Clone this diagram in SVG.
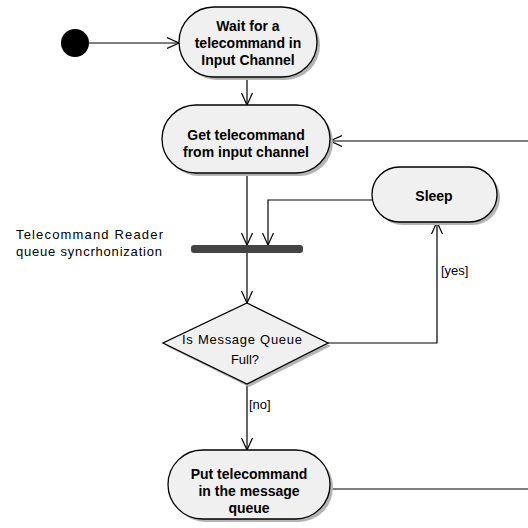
<svg xmlns="http://www.w3.org/2000/svg" width="528" height="528" viewBox="0 0 528 528">
<style>
.node{fill:#f0f0f0;stroke:#000;stroke-width:1.3}
.shadow{fill:#b4b4b4}
.bt{font-family:"Liberation Sans",Arial,sans-serif;font-weight:bold;font-size:14px;text-anchor:middle;fill:#000}
.rt{font-family:"Liberation Sans",Arial,sans-serif;font-size:13px;fill:#000}
.edge{fill:none;stroke:#000;stroke-width:1.2}
</style>
<defs>
<marker id="arr" markerUnits="userSpaceOnUse" markerWidth="14" markerHeight="14" viewBox="0 0 14 14" refX="12" refY="7" orient="auto">
<path d="M0,1.5 L12,7 L0,12.5" fill="none" stroke="#000" stroke-width="1.2"/>
</marker>
</defs>
<rect width="528" height="528" fill="#fff"/>
<g id="connectors">
<line class="edge" x1="89" y1="43" x2="179" y2="43" marker-end="url(#arr)"/>
<line class="edge" x1="247" y1="77" x2="247" y2="105" marker-end="url(#arr)"/>
<line class="edge" x1="528" y1="141" x2="330" y2="141" marker-end="url(#arr)"/>
<line class="edge" x1="247" y1="173" x2="247" y2="245" marker-end="url(#arr)"/>
<polyline class="edge" points="372,200 268,200 268,245" marker-end="url(#arr)"/>
<line class="edge" x1="247" y1="253" x2="247" y2="303" marker-end="url(#arr)"/>
<polyline class="edge" points="328,343 437,343 437,222" marker-end="url(#arr)"/>
<line class="edge" x1="247" y1="384" x2="247" y2="450" marker-end="url(#arr)"/>
<line class="edge" x1="330" y1="489" x2="528" y2="489"/>
<text class="rt" x="441" y="275">[yes]</text>
<text class="rt" x="249" y="409">[no]</text>
</g>
<g id="initial">
<circle cx="75" cy="43" r="14" fill="#000"/>
</g>
<g id="wait">
<rect class="shadow" x="182" y="10" width="138" height="70" rx="35"/>
<rect class="node" x="179" y="7" width="138" height="70" rx="35"/>
<text class="bt" x="248" y="31">Wait for a</text>
<text class="bt" x="248" y="48">telecommand in</text>
<text class="bt" x="248" y="65">Input Channel</text>
</g>
<g id="get">
<rect class="shadow" x="165" y="108" width="168" height="68" rx="34"/>
<rect class="node" x="162" y="105" width="168" height="68" rx="34"/>
<text class="bt" x="246" y="140">Get telecommand</text>
<text class="bt" x="246" y="157">from input channel</text>
</g>
<g id="sleep">
<rect class="shadow" x="375" y="170" width="125" height="55" rx="27.5"/>
<rect class="node" x="372" y="167" width="125" height="55" rx="27.5"/>
<text class="bt" x="434" y="201">Sleep</text>
</g>
<g id="sync">
<rect x="191" y="245" width="112" height="8" rx="3" fill="#444"/>
<text class="rt" x="16" y="239" textLength="147" lengthAdjust="spacing">Telecommand Reader</text>
<text class="rt" x="16" y="256" textLength="146" lengthAdjust="spacing">queue syncrhonization</text>
</g>
<g id="decision">
<polygon class="shadow" points="249,306 331,346 249,387 166,346"/>
<polygon class="node" points="247,303 328,343 247,384 163,343"/>
<text class="rt" x="242" y="344" text-anchor="middle" textLength="120" lengthAdjust="spacing">Is Message Queue</text>
<text class="rt" x="245" y="364" text-anchor="middle">Full?</text>
</g>
<g id="put">
<rect class="shadow" x="171" y="453" width="162" height="69" rx="34.5"/>
<rect class="node" x="168" y="450" width="162" height="69" rx="34.5"/>
<text class="bt" x="249" y="479">Put telecommand</text>
<text class="bt" x="249" y="496">in the message</text>
<text class="bt" x="249" y="513">queue</text>
</g>
</svg>
